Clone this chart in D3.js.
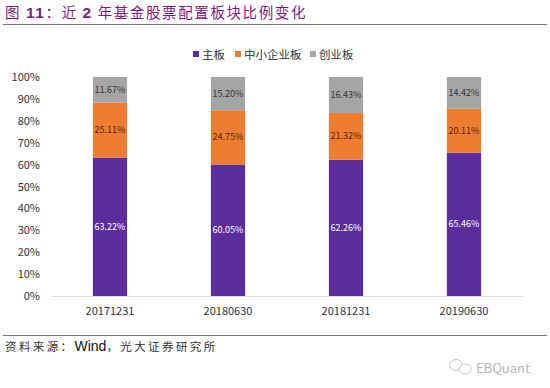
<!DOCTYPE html>
<html>
<head>
<meta charset="utf-8">
<script src="https://cdn.jsdelivr.net/npm/d3@7"></script>
<style>
  html, body { margin: 0; padding: 0; background: #fff; }
  svg { display: block; }
  text { font-family: "Noto Sans CJK SC", "Open Sans", sans-serif; }
</style>
</head>
<body>
<div id="chart"></div>
<script>
const dates = ["20171231", "20180630", "20181231", "20190630"]
const seriesNames = ["主板", "中小企业板", "创业板"]
const mainBoard = [63.22, 60.05, 62.26, 65.46]
const smeBoard = [25.11, 24.75, 21.32, 20.11]
const growthBoard = [11.67, 15.20, 16.43, 14.42]
const yTicks = [0, 10, 20, 30, 40, 50, 60, 70, 80, 90, 100]
const colors = ["#5b2c9b", "#ed7d31", "#a5a5a5"]
const labelColors = ["#ffffff", "#5a1e00", "#333333"]

const width = 550, height = 388

const svg = d3.select("#chart")
  .append("svg")
  .attr("width", width)
  .attr("height", height)

// Title and the rule below it.
const title = svg.append("text")
  .attr("x", 5)
  .attr("y", 18)
  .attr("fill", "#7d1a7d")
  .attr("font-size", 14.5)
  .attr("letter-spacing", 1.6)
title.append("tspan").text("图 ")
title.append("tspan").attr("font-family", "Liberation Sans").attr("font-weight", "bold").attr("font-size", 15.5).text("11")
title.append("tspan").text("：近 ")
title.append("tspan").attr("font-family", "Liberation Sans").attr("font-weight", "bold").attr("font-size", 15.5).text("2")
title.append("tspan").text(" 年基金股票配置板块比例变化")

svg.append("line")
  .attr("x1", 3).attr("x2", 547)
  .attr("y1", 24.5).attr("y2", 24.5)
  .attr("stroke", "#777")

let xScale = d3.scaleBand()
  .domain(dates)
  .range([51, 523])
  .paddingInner(0.71)
  .paddingOuter(0.355)

let yScale = d3.scaleLinear()
  .domain([0, 100])
  .range([296, 77])

// Stack the three series per date.
const rows = dates.map(function (d, i) {
  return {date: d, 0: mainBoard[i], 1: smeBoard[i], 2: growthBoard[i]}
})
const stacked = d3.stack().keys([0, 1, 2])(rows)

const layers = svg.selectAll("g.layer")
  .data(stacked)
  .enter().append("g")
  .attr("class", "layer")

layers.selectAll("rect")
  .data(function (d) { return d })
  .enter().append("rect")
  .attr("x", function (d) { return xScale(d.data.date) })
  .attr("width", xScale.bandwidth())
  .attr("y", function (d) { return yScale(Math.min(d[1], 100)) })
  .attr("height", function (d) { return yScale(d[0]) - yScale(Math.min(d[1], 100)) })
  .attr("fill", function () { return colors[d3.select(this.parentNode).datum().key] })

layers.selectAll("text")
  .data(function (d) { return d })
  .enter().append("text")
  .attr("x", function (d) { return xScale(d.data.date) + xScale.bandwidth() / 2 })
  .attr("y", function (d) { return yScale((d[0] + d[1]) / 2) + 3 })
  .attr("text-anchor", "middle")
  .attr("font-family", "Open Sans")
  .attr("font-size", 9)
  .attr("fill", function () { return labelColors[d3.select(this.parentNode).datum().key] })
  .text(function (d) { return (d[1] - d[0]).toFixed(2) + "%" })

// Axes, only the tick labels and the pale baseline are visible.
const yAxis = svg.append("g")
  .attr("transform", "translate(51,0)")
  .call(d3.axisLeft(yScale).tickValues(yTicks).tickSize(0).tickPadding(11)
    .tickFormat(function (d) { return d + "%" }))
yAxis.select(".domain").remove()
yAxis.selectAll("text")
  .attr("font-family", "Open Sans")
  .attr("font-size", 11)
  .attr("fill", "#333")

const xAxis = svg.append("g")
  .attr("transform", "translate(0,296)")
  .call(d3.axisBottom(xScale).tickSize(0).tickPadding(11))
xAxis.select(".domain").attr("stroke", "#dedede").attr("stroke-width", 1)
xAxis.selectAll("text")
  .attr("font-family", "Open Sans")
  .attr("font-size", 11)
  .attr("fill", "#333")

// Legend above the plot.
const legendX = [193, 235, 310]
const legend = svg.selectAll("g.legend")
  .data(seriesNames)
  .enter().append("g")
  .attr("class", "legend")
  .attr("transform", function (d, i) { return "translate(" + legendX[i] + ",51)" })
legend.append("rect")
  .attr("width", 6).attr("height", 6)
  .attr("fill", function (d, i) { return colors[i] })
legend.append("text")
  .attr("x", 9).attr("y", 7.5)
  .attr("font-size", 11.5)
  .attr("fill", "#333")
  .text(function (d) { return d })

// Source line and its rule.
svg.append("line")
  .attr("x1", 3).attr("x2", 547)
  .attr("y1", 335.5).attr("y2", 335.5)
  .attr("stroke", "#777")

const source = svg.append("text")
  .attr("x", 5)
  .attr("y", 351)
  .attr("fill", "#333")
  .attr("font-size", 11.5)
  .attr("letter-spacing", 2.4)
source.append("tspan").text("资料来源：")
source.append("tspan").attr("font-family", "Liberation Sans").attr("font-size", 14).attr("letter-spacing", 0).attr("fill", "#111").text("Wind")
source.append("tspan").text("，光大证券研究所")

// Watermark.
const mark = svg.append("g").attr("fill", "none").attr("stroke", "#c4c4c4").attr("stroke-width", 1)
mark.append("ellipse").attr("cx", 456).attr("cy", 365).attr("rx", 6.5).attr("ry", 5.5)
mark.append("ellipse").attr("cx", 465).attr("cy", 369).attr("rx", 6).attr("ry", 5).attr("fill", "#fff")
svg.append("text")
  .attr("x", 476).attr("y", 373)
  .attr("font-family", "Open Sans")
  .attr("font-size", 13)
  .attr("fill", "#b5b5b5")
  .text("EBQuant")
</script>
</body>
</html>
